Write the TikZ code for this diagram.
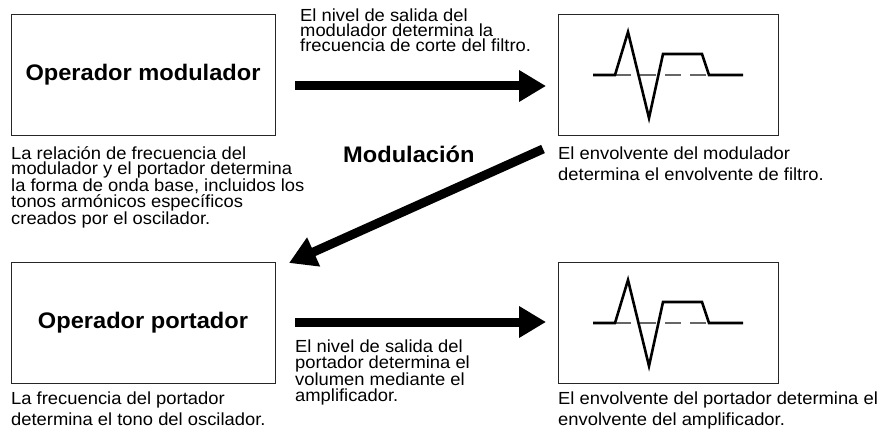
\documentclass[tikz,border=0pt]{standalone}
\usepackage{fontspec}
\setmainfont{Liberation Sans}
\newfontfamily\lab[FakeStretch=1.05]{Liberation Sans}
\usetikzlibrary{arrows.meta,calc}
\begin{document}
\begin{tikzpicture}[x=1pt,y=-1pt,
  box/.style={draw=black!85,line width=0.9pt,minimum width=264pt,minimum height=121pt,inner sep=0pt},
  envbox/.style={draw=black!85,line width=0.9pt,minimum width=220pt,minimum height=121pt,inner sep=0pt},
  title/.style={font={\lab\bfseries\fontsize{22.5}{26}\selectfont}},
  desc/.style={font={\lab\fontsize{17.5}{15.4}\selectfont},align=left,inner sep=0pt,anchor=base west},
  wide/.style={font={\lab\fontsize{17.5}{21}\selectfont}},
  bigarrow/.style={line width=9pt,-{Triangle[length=27pt,width=30pt]}},
  wave/.style={line width=2.6pt,line join=miter},
  zero/.style={draw=black!60,line width=1.3pt,dash pattern=on 16pt off 9pt}]
\useasboundingbox (0,0) rectangle (882,430);
% boxes
\node[box] (mod) at (143,74.5) {};
\node[title] (modt) at (143,74.5) {Operador modulador};
\node[box] (por) at (143,322.5) {};
\node[title] (port) at (143,322.5) {Operador portador};
\node[envbox] (env1) at (668,74.5) {};
\node[envbox] (env2) at (668,322.5) {};
% waveforms
\foreach \dy in {0,248}{
  \begin{scope}[yshift=-\dy pt]
    \draw[zero] (615,75) -- (709,75);
    \draw[wave] (593,75) -- (615,75) -- (628,32) -- (649,118) -- (663,54) -- (702,54) -- (709,75) -- (743,75);
  \end{scope}
}
% arrows
\coordinate (a1s) at (295,86);
\coordinate (a1e) at (546,86);
\coordinate (a2s) at (543,149);
\coordinate (a2e) at (289,263);
\coordinate (a3s) at (295,322);
\coordinate (a3e) at (546,322);
\draw[bigarrow] (a1s) -- (a1e);
\draw[bigarrow] (a2s) -- (a2e);
\draw[bigarrow] (a3s) -- (a3e);
% texts
\node[desc] (t1) at (300,52) {El nivel de salida del\\modulador determina la\\frecuencia de corte del filtro.};
\node[desc] (t2) at (11,224.5) {La relación de frecuencia del\\modulador y el portador determina\\la forma de onda base, incluidos los\\tonos armónicos específicos\\creados por el oscilador.};
\node[title,anchor=base west,inner sep=0pt] (t3) at (343,163) {Modulación};
\node[desc,wide] (t4) at (558,181) {El envolvente del modulador\\determina el envolvente de filtro.};
\node[desc,wide] (t5) at (11,425.5) {La frecuencia del portador\\determina el tono del oscilador.};
\node[desc] (t6) at (295,401) {El nivel de salida del\\portador determina el\\volumen mediante el\\amplificador.};
\node[desc,wide] (t7) at (558,425.5) {El envolvente del portador determina el\\envolvente del amplificador.};
\end{tikzpicture}
\end{document}
